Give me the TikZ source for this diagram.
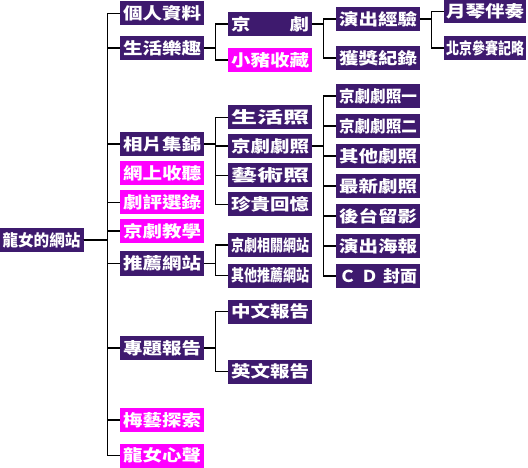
\documentclass[tikz,border=0pt]{standalone}
\usepackage{fontspec}
\newfontfamily\cjk{Noto Sans CJK TC}
\definecolor{boxpurple}{RGB}{62,26,110}
\definecolor{boxmag}{RGB}{255,0,255}
\newcommand{\lbl}[1]{\resizebox{78pt}{14pt}{\cjk\bfseries #1}}
\newcommand{\conn}[2]{\draw[link] (#1.east) -| ([xshift=-12pt]#2.west) -- (#2.west);}
\begin{document}
\begin{tikzpicture}[x=1pt,y=-1pt,
  box/.style={minimum width=84pt,minimum height=24pt,inner sep=0pt,text=white,fill=boxpurple},
  magbox/.style={box,fill=boxmag},
  link/.style={line width=1.2pt,black}]
\useasboundingbox (0,0) rectangle (528,468);
% root
\node[box] (root) at (41.5,240) {\lbl{龍女的網站}};
% level 1
\node[box] (a1) at (162,13.5) {\lbl{個人資料}};
\node[box] (a2) at (162,48) {\lbl{生活樂趣}};
\node[box] (a3) at (162,144) {\lbl{相片集錦}};
\node[magbox] (a4) at (162,173.5) {\lbl{網上收聽}};
\node[magbox] (a5) at (162,202.5) {\lbl{劇評選錄}};
\node[magbox] (a6) at (162,231) {\lbl{京劇教學}};
\node[box] (a7) at (162,263.5) {\lbl{推薦網站}};
\node[box] (a8) at (162,348) {\lbl{專題報告}};
\node[magbox] (a9) at (162,420) {\lbl{梅藝探索}};
\node[magbox] (a10) at (162,455.5) {\lbl{龍女心聲}};
% level 2
\node[box] (b1) at (270,24) {\lbl{京\hspace{2em}劇}};
\node[magbox] (b2) at (270,60) {\lbl{小豬收藏}};
\node[box] (b3) at (270,117.5) {\lbl{生活照}};
\node[box] (b4) at (270,146) {\lbl{京劇劇照}};
\node[box] (b5) at (270,175.5) {\lbl{藝術照}};
\node[box] (b6) at (270,204.5) {\lbl{珍貴回憶}};
\node[box] (b7) at (270,245) {\lbl{京劇相關網站}};
\node[box] (b8) at (270,275.5) {\lbl{其他推薦網站}};
\node[box] (b9) at (270,311.5) {\lbl{中文報告}};
\node[box] (b10) at (270,371.5) {\lbl{英文報告}};
% level 3
\node[box] (c1) at (378,19) {\lbl{演出經驗}};
\node[box] (c2) at (378,58) {\lbl{獲獎紀錄}};
\node[box] (p1) at (378,96) {\lbl{京劇劇照一}};
\node[box] (p2) at (378,126) {\lbl{京劇劇照二}};
\node[box] (p3) at (378,156) {\lbl{其他劇照}};
\node[box] (p4) at (378,186) {\lbl{最新劇照}};
\node[box] (p5) at (378,216) {\lbl{後台留影}};
\node[box] (p6) at (378,246) {\lbl{演出海報}};
\node[box] (p7) at (378,276) {\lbl{Ｃ\hspace{0.3em}Ｄ\hspace{0.3em}封面}};
% level 4
\node[box,minimum width=82pt] (d1) at (485,11.5) {\lbl{月琴伴奏}};
\node[box,minimum width=82pt] (d2) at (485,48) {\lbl{北京參賽記略}};
% connectors
\conn{root}{a1}\conn{root}{a2}\conn{root}{a3}
\conn{root}{a5}\conn{root}{a6}\conn{root}{a7}\conn{root}{a8}
\conn{root}{a9}\conn{root}{a10}
\conn{a2}{b1}\conn{a2}{b2}
\conn{a3}{b3}\conn{a3}{b4}\conn{a3}{b5}\conn{a3}{b6}
\conn{a7}{b7}\conn{a7}{b8}
\conn{a8}{b9}\conn{a8}{b10}
\conn{b1}{c1}\conn{b1}{c2}
\conn{b4}{p1}\conn{b4}{p2}\conn{b4}{p3}\conn{b4}{p4}
\conn{b4}{p5}\conn{b4}{p6}\conn{b4}{p7}
\conn{c1}{d1}\conn{c1}{d2}
\end{tikzpicture}
\end{document}
